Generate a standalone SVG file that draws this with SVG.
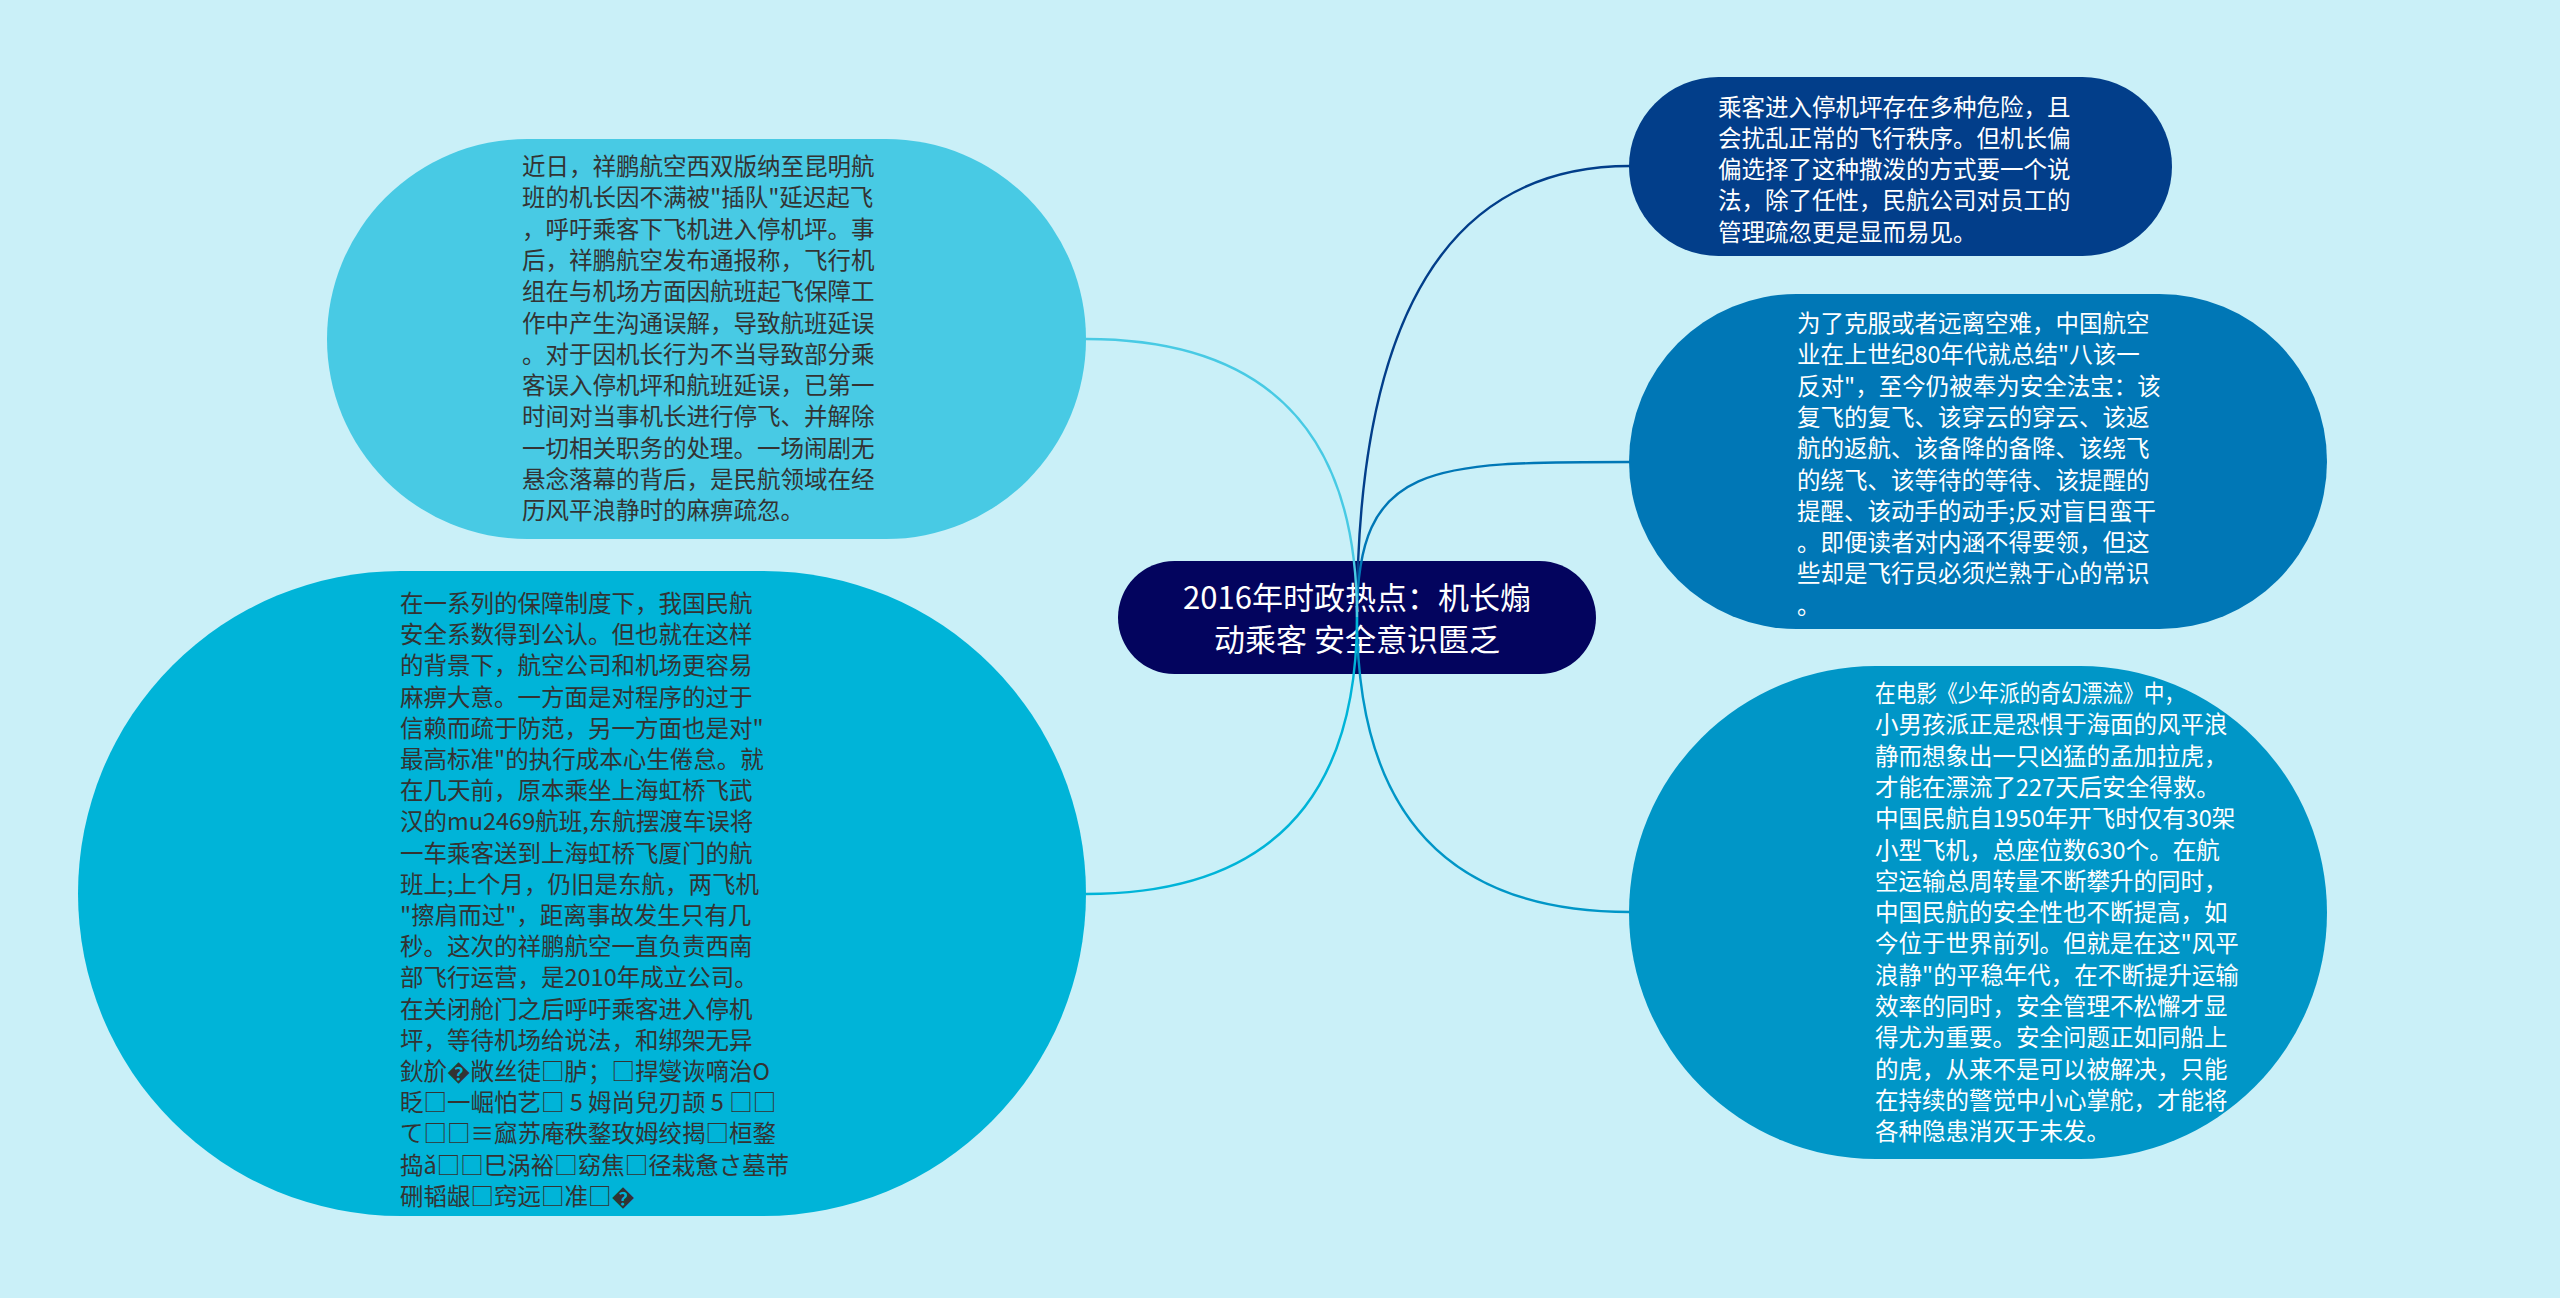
<svg xmlns="http://www.w3.org/2000/svg" width="2560" height="1298" viewBox="0 0 2560 1298">
<style>
.t{font-family:"Noto Sans CJK SC","Noto Sans",sans-serif;font-size:23.5px}
.dk{fill:#333333}
.wt{fill:#ffffff}
.ct{font-family:"Noto Sans CJK SC","Noto Sans",sans-serif;font-size:31px;fill:#ffffff;text-anchor:middle}
.ln{fill:none;stroke-width:2.4}
</style>
<rect x="0" y="0" width="2560" height="1298" fill="#caf0f8"/>
<g id="node-center">
<rect x="1118" y="561" width="478" height="113" rx="56.5" fill="#03045e"/>
<text class="ct"><tspan x="1357" y="609">2016年时政热点：机长煽</tspan><tspan x="1357" y="651">动乘客 安全意识匮乏</tspan></text>
</g>
<g id="node-top-left">
<rect x="327" y="139" width="759" height="400" rx="200" fill="#48cae4"/>
<text class="t dk">
<tspan x="522" y="175">近日，祥鹏航空西双版纳至昆明航</tspan>
<tspan x="522" y="206.3">班的机长因不满被"插队"延迟起飞</tspan>
<tspan x="522" y="237.6">，呼吁乘客下飞机进入停机坪。事</tspan>
<tspan x="522" y="268.9">后，祥鹏航空发布通报称，飞行机</tspan>
<tspan x="522" y="300.2">组在与机场方面因航班起飞保障工</tspan>
<tspan x="522" y="331.5">作中产生沟通误解，导致航班延误</tspan>
<tspan x="522" y="362.8">。对于因机长行为不当导致部分乘</tspan>
<tspan x="522" y="394.1">客误入停机坪和航班延误，已第一</tspan>
<tspan x="522" y="425.4">时间对当事机长进行停飞、并解除</tspan>
<tspan x="522" y="456.7">一切相关职务的处理。一场闹剧无</tspan>
<tspan x="522" y="488">悬念落幕的背后，是民航领域在经</tspan>
<tspan x="522" y="519.3">历风平浪静时的麻痹疏忽。</tspan>
</text>
</g>
<g id="node-bottom-left">
<rect x="78" y="571" width="1008" height="645" rx="322.5" fill="#00b4d8"/>
<text class="t dk">
<tspan x="400" y="612">在一系列的保障制度下，我国民航</tspan>
<tspan x="400" y="643.2">安全系数得到公认。但也就在这样</tspan>
<tspan x="400" y="674.4">的背景下，航空公司和机场更容易</tspan>
<tspan x="400" y="705.6">麻痹大意。一方面是对程序的过于</tspan>
<tspan x="400" y="736.8">信赖而疏于防范，另一方面也是对"</tspan>
<tspan x="400" y="768">最高标准"的执行成本心生倦怠。就</tspan>
<tspan x="400" y="799.2">在几天前，原本乘坐上海虹桥飞武</tspan>
<tspan x="400" y="830.4">汉的mu2469航班,东航摆渡车误将</tspan>
<tspan x="400" y="861.6">一车乘客送到上海虹桥飞厦门的航</tspan>
<tspan x="400" y="892.8">班上;上个月，仍旧是东航，两飞机</tspan>
<tspan x="400" y="924">"擦肩而过"，距离事故发生只有几</tspan>
<tspan x="400" y="955.2">秒。这次的祥鹏航空一直负责西南</tspan>
<tspan x="400" y="986.4">部飞行运营，是2010年成立公司。</tspan>
<tspan x="400" y="1017.6">在关闭舱门之后呼吁乘客进入停机</tspan>
<tspan x="400" y="1048.8">坪，等待机场给说法，和绑架无异</tspan>
<tspan x="400" y="1080">鈥斺�敞丝徒□胪；□捍燮诙嘀治О</tspan>
<tspan x="400" y="1111.2">眨□一崛怕艺□ 5 姆尚兒刃颉 5 □□</tspan>
<tspan x="400" y="1142.4">て□□≡窳苏庵秩鍪玫姆绞揭□桓鍪</tspan>
<tspan x="400" y="1173.6">捣ǎ□□巳涡裕□窈焦□径栽惫さ墓芾</tspan>
<tspan x="400" y="1204.8">硎韬龈□窍远□准□�</tspan>
</text>
</g>
<g id="node-top-right">
<rect x="1629" y="77" width="543" height="179" rx="89.5" fill="#023e8a"/>
<text class="t wt">
<tspan x="1718" y="115.5">乘客进入停机坪存在多种危险，且</tspan>
<tspan x="1718" y="146.8">会扰乱正常的飞行秩序。但机长偏</tspan>
<tspan x="1718" y="178.1">偏选择了这种撒泼的方式要一个说</tspan>
<tspan x="1718" y="209.4">法，除了任性，民航公司对员工的</tspan>
<tspan x="1718" y="240.7">管理疏忽更是显而易见。</tspan>
</text>
</g>
<g id="node-mid-right">
<rect x="1629" y="294" width="698" height="335" rx="167.5" fill="#0077b6"/>
<text class="t wt">
<tspan x="1797" y="332">为了克服或者远离空难，中国航空</tspan>
<tspan x="1797" y="363.3">业在上世纪80年代就总结"八该一</tspan>
<tspan x="1797" y="394.6">反对"，至今仍被奉为安全法宝：该</tspan>
<tspan x="1797" y="425.9">复飞的复飞、该穿云的穿云、该返</tspan>
<tspan x="1797" y="457.2">航的返航、该备降的备降、该绕飞</tspan>
<tspan x="1797" y="488.5">的绕飞、该等待的等待、该提醒的</tspan>
<tspan x="1797" y="519.8">提醒、该动手的动手;反对盲目蛮干</tspan>
<tspan x="1797" y="551.1">。即便读者对内涵不得要领，但这</tspan>
<tspan x="1797" y="582.4">些却是飞行员必须烂熟于心的常识</tspan>
<tspan x="1797" y="613.7">。</tspan>
</text>
</g>
<g id="node-bottom-right">
<rect x="1629" y="666" width="698" height="493" rx="246.5" fill="#0096c7"/>
<text class="t wt">
<tspan x="1875" y="702" textLength="310" lengthAdjust="spacingAndGlyphs">在电影《少年派的奇幻漂流》中，</tspan>
<tspan x="1875" y="733.3">小男孩派正是恐惧于海面的风平浪</tspan>
<tspan x="1875" y="764.6">静而想象出一只凶猛的孟加拉虎，</tspan>
<tspan x="1875" y="795.9">才能在漂流了227天后安全得救。</tspan>
<tspan x="1875" y="827.2">中国民航自1950年开飞时仅有30架</tspan>
<tspan x="1875" y="858.5">小型飞机，总座位数630个。在航</tspan>
<tspan x="1875" y="889.8">空运输总周转量不断攀升的同时，</tspan>
<tspan x="1875" y="921.1">中国民航的安全性也不断提高，如</tspan>
<tspan x="1875" y="952.4">今位于世界前列。但就是在这"风平</tspan>
<tspan x="1875" y="983.7">浪静"的平稳年代，在不断提升运输</tspan>
<tspan x="1875" y="1015">效率的同时，安全管理不松懈才显</tspan>
<tspan x="1875" y="1046.3">得尤为重要。安全问题正如同船上</tspan>
<tspan x="1875" y="1077.6">的虎，从来不是可以被解决，只能</tspan>
<tspan x="1875" y="1108.9">在持续的警觉中小心掌舵，才能将</tspan>
<tspan x="1875" y="1140.2">各种隐患消灭于未发。</tspan>
</text>
</g>
<g id="connectors">
<path class="ln" stroke="#023e8a" d="M1357 617 Q1357 166 1630 166"/>
<path class="ln" stroke="#0077b6" d="M1357 617 C1357 462 1430 462 1630 462"/>
<path class="ln" stroke="#0096c7" d="M1357 617 Q1357 912 1630 912"/>
<path class="ln" stroke="#48cae4" d="M1357 617 Q1357 339 1086 339"/>
<path class="ln" stroke="#00b4d8" d="M1357 617 Q1357 894 1086 894"/>
</g>
</svg>
